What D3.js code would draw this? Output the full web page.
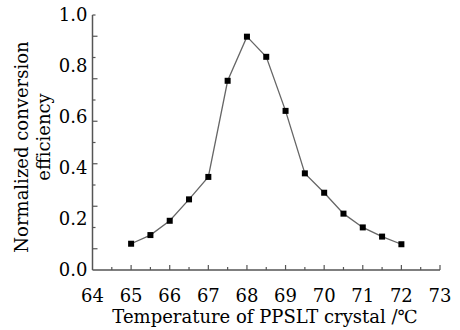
<!DOCTYPE html>
<html>
<head>
<meta charset="utf-8">
<script src="https://cdn.jsdelivr.net/npm/d3@7"></script>
<style>
body { margin: 0; background: #fff; }
text { font-family: "DejaVu Serif", serif; fill: #000; }
</style>
</head>
<body>
<svg id="chart" width="460" height="330"></svg>
<script>
// data
const temps = [65, 65.5, 66, 66.5, 67, 67.5, 68, 68.5, 69, 69.5, 70, 70.5, 71, 71.5, 72];
const efficiency = [0.103, 0.137, 0.193, 0.277, 0.365, 0.742, 0.915, 0.836, 0.624, 0.379, 0.303, 0.221, 0.167, 0.131, 0.101];
const xTickLabels = [64, 65, 66, 67, 68, 69, 70, 71, 72, 73];
const yTickLabels = [0.0, 0.2, 0.4, 0.6, 0.8, 1.0];

const svg = d3.select("#chart");
const margin = { top: 15, right: 20, bottom: 60, left: 92.5 };
const width = +svg.attr("width") - margin.left - margin.right;
const height = +svg.attr("height") - margin.top - margin.bottom;

const x = d3.scaleLinear().domain([64, 73]).range([0, width]);
const y = d3.scaleLinear().domain([0, 1]).range([height, 0]);

const g = svg.append("g")
    .attr("transform", `translate(${margin.left},${margin.top})`);

const axisColor = "#555";

// axis lines
g.append("line")
    .attr("x1", 0).attr("y1", 0).attr("x2", 0).attr("y2", height)
    .attr("stroke", axisColor).attr("stroke-width", 1.5);
g.append("line")
    .attr("x1", 0).attr("y1", height).attr("x2", width).attr("y2", height)
    .attr("stroke", axisColor).attr("stroke-width", 1.5);

// x ticks, pointing inward: long at integers, short at halves
const xTicks = d3.range(64.5, 73.01, 0.5);
g.selectAll(".xtick")
    .data(xTicks)
    .enter().append("line")
    .attr("class", "xtick")
    .attr("x1", d => x(d)).attr("x2", d => x(d))
    .attr("y1", height)
    .attr("y2", d => height - (d % 1 === 0 ? 5 : 3))
    .attr("stroke", axisColor).attr("stroke-width", 1.2);

g.selectAll(".xlabel")
    .data(xTickLabels)
    .enter().append("text")
    .attr("class", "xlabel")
    .attr("x", d => x(d))
    .attr("y", height + 32)
    .attr("text-anchor", "middle")
    .style("font-size", "18px")
    .text(d => d);

// y ticks in the figure run on twelfths, independent of the labels
const yTicks = d3.range(1, 13).map(i => i / 12);
g.selectAll(".ytick")
    .data(yTicks)
    .enter().append("line")
    .attr("class", "ytick")
    .attr("y1", d => y(d)).attr("y2", d => y(d))
    .attr("x1", 0)
    .attr("x2", (d, i) => (i % 2 === 0 ? 5 : 3))
    .attr("stroke", axisColor).attr("stroke-width", 1.2);

g.selectAll(".ylabel")
    .data(yTickLabels)
    .enter().append("text")
    .attr("class", "ylabel")
    .attr("x", -5)
    .attr("y", d => y(d))
    .attr("dy", "0.36em")
    .attr("text-anchor", "end")
    .style("font-size", "18px")
    .text(d => d.toFixed(1));

// series
const pts = temps.map((t, i) => [t, efficiency[i]]);
g.append("path")
    .datum(pts)
    .attr("fill", "none")
    .attr("stroke", "#666")
    .attr("stroke-width", 1.3)
    .attr("d", d3.line().x(d => x(d[0])).y(d => y(d[1])));

g.selectAll(".dot")
    .data(pts)
    .enter().append("rect")
    .attr("class", "dot")
    .attr("x", d => x(d[0]) - 3)
    .attr("y", d => y(d[1]) - 3)
    .attr("width", 6)
    .attr("height", 6)
    .attr("fill", "#000");

// axis titles
svg.append("text")
    .attr("x", 265)
    .attr("y", 323)
    .attr("text-anchor", "middle")
    .style("font-size", "18px")
    .text("Temperature of PPSLT crystal /℃");

svg.append("text")
    .attr("transform", "translate(28,147) rotate(-90)")
    .attr("text-anchor", "middle")
    .style("font-size", "18px")
    .text("Normalized conversion");

svg.append("text")
    .attr("transform", "translate(50,137) rotate(-90)")
    .attr("text-anchor", "middle")
    .style("font-size", "18px")
    .text("efficiency");
</script>
</body>
</html>
